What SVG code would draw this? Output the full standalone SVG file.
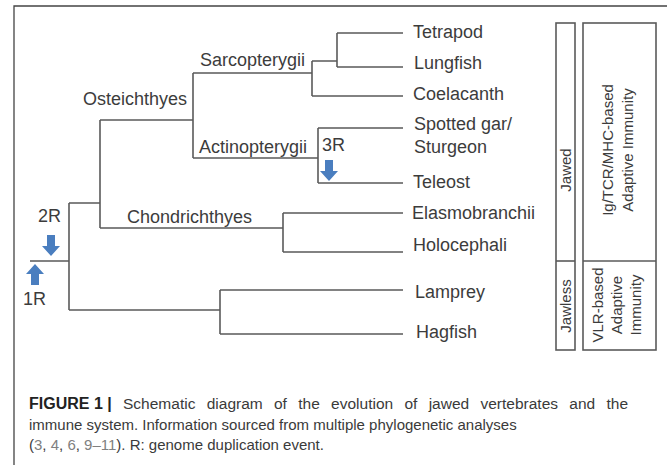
<svg xmlns="http://www.w3.org/2000/svg" width="667" height="465" viewBox="0 0 667 465">
<defs>
<style>
.frame{fill:none;stroke:#444;stroke-width:1.3}
.ln{fill:none;stroke:#5a5a5a;stroke-width:1.6}
.box{fill:none;stroke:#5a5a5a;stroke-width:1.6}
.lbl{font-family:"Liberation Sans",Arial,sans-serif;font-size:18px;fill:#3c3c3c}
.sm{font-family:"Liberation Sans",Arial,sans-serif;font-size:15px;fill:#3c3c3c;text-anchor:middle}
.arr{fill:#4a7ebf}
.cap{font-family:"Liberation Sans",Arial,sans-serif;font-size:15px;fill:#3a3a3a}
.capb{font-weight:bold;fill:#222}
.ref{fill:#808080}
</style>
<path id="down" class="arr" d="M-4,0 H4 V11 H9 L0,21 L-9,11 H-4 Z"/>
</defs>
<rect width="667" height="465" fill="#fff"/>
<path class="frame" d="M14,465 V6 H667"/>

<g id="connectors">
<path class="ln" d="M30,261 H69 M69,203 V310 M69,203 H100 M69,310 H220"/>
<path class="ln" d="M100,120 V228 M100,120 H193 M100,228 H283"/>
<path class="ln" d="M193,73 V158 M193,73 H312 M193,158 H318"/>
<path class="ln" d="M312,61 V96 M312,61 H337 M312,96 H403"/>
<path class="ln" d="M337,33 V67 M337,33 H403 M337,67 H403"/>
<path class="ln" d="M318,128 V183 M318,128 H403 M318,183 H403"/>
<path class="ln" d="M283,213 V252 M283,213 H403 M283,252 H403"/>
<path class="ln" d="M220,290 V334 M220,290 H403 M220,334 H403"/>
</g>

<g id="osteichthyes"><text class="lbl" x="83" y="105">Osteichthyes</text></g>
<g id="sarcopterygii"><text class="lbl" x="200" y="66">Sarcopterygii</text></g>
<g id="actinopterygii"><text class="lbl" x="199" y="153">Actinopterygii</text></g>
<g id="chondrichthyes"><text class="lbl" x="127" y="223">Chondrichthyes</text></g>

<g id="tetrapod"><text class="lbl" x="413" y="38">Tetrapod</text></g>
<g id="lungfish"><text class="lbl" x="414" y="69">Lungfish</text></g>
<g id="coelacanth"><text class="lbl" x="413" y="100">Coelacanth</text></g>
<g id="spotted-gar"><text class="lbl" x="414" y="130">Spotted gar/</text><text class="lbl" x="414" y="153">Sturgeon</text></g>
<g id="teleost"><text class="lbl" x="413" y="188">Teleost</text></g>
<g id="elasmobranchii"><text class="lbl" x="412" y="219">Elasmobranchii</text></g>
<g id="holocephali"><text class="lbl" x="413" y="251">Holocephali</text></g>
<g id="lamprey"><text class="lbl" x="415" y="298">Lamprey</text></g>
<g id="hagfish"><text class="lbl" x="416" y="338">Hagfish</text></g>

<g id="event-3R">
<text class="lbl" x="322" y="151">3R</text>
<use href="#down" x="329" y="160"/>
</g>
<g id="event-2R">
<text class="lbl" x="38" y="222">2R</text>
<use href="#down" x="51" y="235"/>
</g>
<g id="event-1R">
<use href="#down" transform="translate(35,285) rotate(180)"/>
<text class="lbl" x="23" y="305">1R</text>
</g>

<g id="jaw-column">
<rect class="box" x="556" y="23" width="19" height="327"/>
<path class="box" d="M556,261 H575"/>
<text class="sm" transform="translate(571,170) rotate(-90)">Jawed</text>
<text class="sm" transform="translate(571,306) rotate(-90)">Jawless</text>
</g>
<g id="immunity-column">
<rect class="box" x="583" y="23" width="73" height="327"/>
<path class="box" d="M583,261 H656"/>
<text class="sm" transform="translate(613,150) rotate(-90)">Ig/TCR/MHC-based</text>
<text class="sm" transform="translate(633,150) rotate(-90)">Adaptive Immunity</text>
<text class="sm" transform="translate(603,305) rotate(-90)">VLR-based</text>
<text class="sm" transform="translate(622,305) rotate(-90)">Adaptive</text>
<text class="sm" transform="translate(641,305) rotate(-90)">Immunity</text>
</g>

<g id="caption">
<text class="cap" x="29" y="409"><tspan class="capb" font-size="16">FIGURE 1 |</tspan><tspan font-size="15.5" word-spacing="7"> Schematic diagram of the evolution of jawed vertebrates and the</tspan></text>
<text class="cap" x="29" y="430">immune system. Information sourced from multiple phylogenetic analyses</text>
<text class="cap" x="29" y="450">(<tspan class="ref">3</tspan>, <tspan class="ref">4</tspan>, <tspan class="ref">6</tspan>, <tspan class="ref">9–11</tspan>). R: genome duplication event.</text>
</g>
</svg>
